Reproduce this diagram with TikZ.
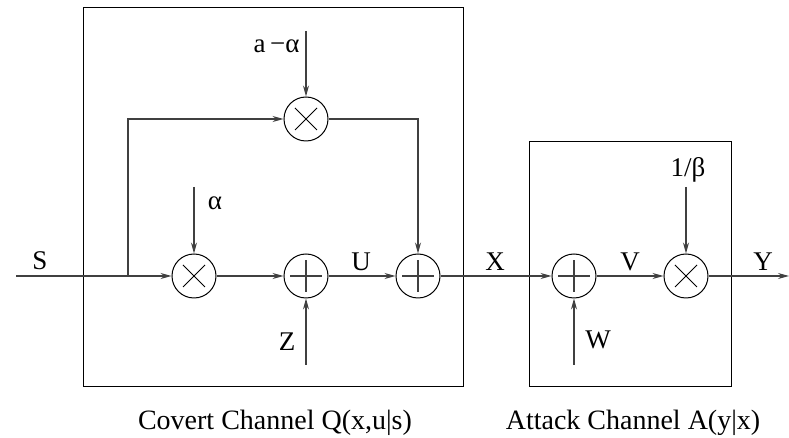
\documentclass[tikz,border=0pt]{standalone}
\usepackage{fontspec}
\setmainfont{Liberation Serif}
\usetikzlibrary{arrows.meta}

\begin{document}
\begin{tikzpicture}[x=0.5pt, y=-0.5pt,
    line/.style={draw=black!75, line width=0.55pt},
    arr/.style={line, -{Stealth[length=5.5pt, width=3pt]}},
    chanbox/.style={draw=black, line width=0.5pt},
    mult/.style={circle, draw=black, line width=0.5pt, minimum size=22pt, inner sep=0pt,
        path picture={
            \draw[black, line width=0.4pt]
                ([shift={(-5.5pt,-5.5pt)}]path picture bounding box.center) -- ([shift={(5.5pt,5.5pt)}]path picture bounding box.center)
                ([shift={(-5.5pt,5.5pt)}]path picture bounding box.center) -- ([shift={(5.5pt,-5.5pt)}]path picture bounding box.center);}},
    summ/.style={circle, draw=black, line width=0.5pt, minimum size=22pt, inner sep=0pt,
        path picture={
            \draw[black!75, line width=0.55pt]
                ([xshift=-8pt]path picture bounding box.center) -- ([xshift=8pt]path picture bounding box.center)
                ([yshift=-8pt]path picture bounding box.center) -- ([yshift=8pt]path picture bounding box.center);}},
    lbl/.style={font=\fontsize{13.5}{15}\selectfont, inner sep=0pt},
    caption/.style={font=\fontsize{14}{16}\selectfont, inner sep=0pt}]
        \useasboundingbox (0,0) rectangle (789,438);

        % Channel boxes
        \draw[chanbox] (83,8) rectangle (463,387);
        \draw[chanbox] (529,142) rectangle (731,387);

        % Covert channel blocks
        \node[mult] (mulAlpha) at (194,276) {};
        \node[summ] (addZ) at (306,276) {};
        \node[summ] (addU) at (418,276) {};
        \node[mult] (mulA) at (306,119) {};

        % Attack channel blocks
        \node[summ] (addW) at (574,276) {};
        \node[mult] (mulBeta) at (686,276) {};

        % Line ends
        \coordinate (sIn) at (16,276);
        \coordinate (branch) at (128,276);
        \coordinate (yOut) at (789,276);
        \coordinate (inA) at (306,31);
        \coordinate (inAlpha) at (194,187);
        \coordinate (inZ) at (306,365);
        \coordinate (inW) at (574,365);
        \coordinate (inBeta) at (686,187);

        % Signal path
        \draw[line] (sIn) -- (branch);
        \draw[arr] (branch) -- (mulAlpha);
        \draw[arr] (branch) |- (mulA);
        \draw[arr] (mulAlpha) -- (addZ);
        \draw[arr] (addZ) -- (addU);
        \draw[arr] (mulA) -| (addU);
        \draw[arr] (addU) -- (addW);
        \draw[arr] (addW) -- (mulBeta);
        \draw[arr] (mulBeta) -- (yOut);

        % Side inputs
        \draw[arr] (inA) -- (mulA);
        \draw[arr] (inAlpha) -- (mulAlpha);
        \draw[arr] (inZ) -- (addZ);
        \draw[arr] (inW) -- (addW);
        \draw[arr] (inBeta) -- (mulBeta);

        % Labels
        \node[lbl] (labS) at (40,261) {S};
        \node[lbl, anchor=east] (labA) at (300,46) {a\,−α};
        \node[lbl] (labAlpha) at (215,203) {α};
        \node[lbl] (labZ) at (287,342) {Z};
        \node[lbl] (labU) at (361,262) {U};
        \node[lbl] (labX) at (495,262) {X};
        \node[lbl] (labV) at (630,262) {V};
        \node[lbl] (labW) at (598,340) {W};
        \node[lbl] (labBeta) at (688,170) {1/β};
        \node[lbl] (labY) at (763,262) {Y};

        % Captions
        \node[caption] (capQ) at (275,423) {Covert Channel Q(x,u|s)};
        \node[caption] (capA) at (633,423) {Attack Channel A(y|x)};
\end{tikzpicture}
\end{document}
